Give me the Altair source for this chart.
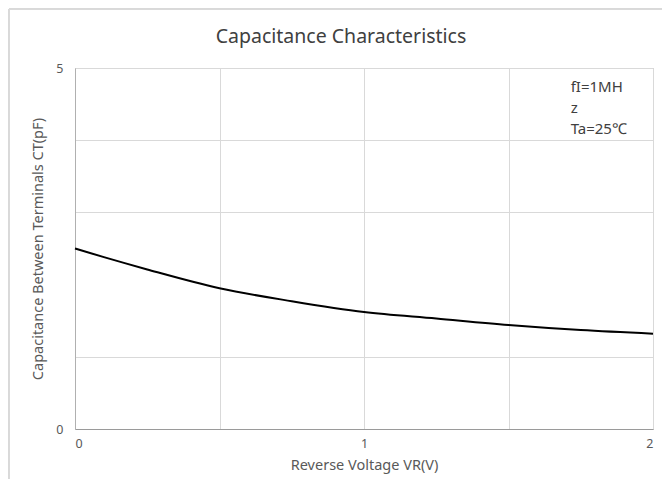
import altair as alt
import pandas as pd

voltage = [0.0, 0.1, 0.25, 0.5, 0.75, 1.0, 1.25, 1.5, 1.75, 2.0]
capacitance = [2.50, 2.38, 2.21, 1.95, 1.77, 1.62, 1.53, 1.44, 1.37, 1.32]

note_lines = ["fI=1MH", "z", "Ta=25\u2103"]
note_x = [1.715, 1.715, 1.715]
note_y = [4.73, 4.44, 4.15]

x_ticks = [0, 0.5, 1, 1.5, 2]
y_ticks = [0, 1, 3, 4, 5]

df = pd.DataFrame({"v": voltage, "c": capacitance})
notes = pd.DataFrame({"t": note_lines, "x": note_x, "y": note_y})

FONT = "Noto Sans"
GRAY = "#595959"

xscale = alt.Scale(domain=[0, 2], nice=False)
yscale = alt.Scale(domain=[0, 5], nice=False)

line = alt.Chart(df).mark_line(color="black", strokeWidth=2, interpolate="monotone").encode(
    x=alt.X("v:Q", scale=xscale,
            axis=alt.Axis(values=x_ticks, title="Reverse Voltage VR(V)",
                          labelExpr="datum.value % 1 == 0 ? format(datum.value, 'd') : ''",
                          ticks=False, labelPadding=8, titlePadding=9, titleFontSize=14.5,
                          grid=True, gridColor="#d9d9d9", domainColor="#9a9a9a")),
    y=alt.Y("c:Q", scale=yscale,
            axis=alt.Axis(values=y_ticks, title="Capacitance Between Terminals CT(pF)",
                          labelExpr="(datum.value == 0 || datum.value == 5) ? format(datum.value, 'd') : ''",
                          ticks=False, labelPadding=12, titlePadding=10, titleFontSize=14.5,
                          grid=True, gridColor="#d9d9d9", domainColor="#b0b0b0")),
)

text = alt.Chart(notes).mark_text(align="left", baseline="middle", fontSize=15,
                                  font=FONT, color="#404040").encode(
    x=alt.X("x:Q", scale=xscale),
    y=alt.Y("y:Q", scale=yscale),
    text="t:N",
)

frame = alt.Chart(df).mark_rect(fill=None, stroke="#d9d9d9", strokeWidth=1, clip=False).encode(
    x=alt.value(-66), x2=alt.value(590), y=alt.value(-59), y2=alt.value(427)
)

chart = alt.layer(frame, line, text).properties(
    width=578,
    height=361,
    title=alt.TitleParams("Capacitance Characteristics", fontSize=19.5, font=FONT,
                          fontWeight="normal", color="#404040", offset=0, dy=39, dx=-23),
    autosize=alt.AutoSizeParams(type="none"),
    padding={"left": 67, "top": 60, "right": 9, "bottom": 50},
).configure_axis(
    labelFont=FONT, titleFont=FONT, labelFontSize=12.5, titleFontSize=13,
    labelColor=GRAY, titleColor=GRAY, titleFontWeight="normal",
).configure_view(stroke="#bdbdbd")

chart.save("out.html", embed_options={"renderer": "svg", "actions": False})
